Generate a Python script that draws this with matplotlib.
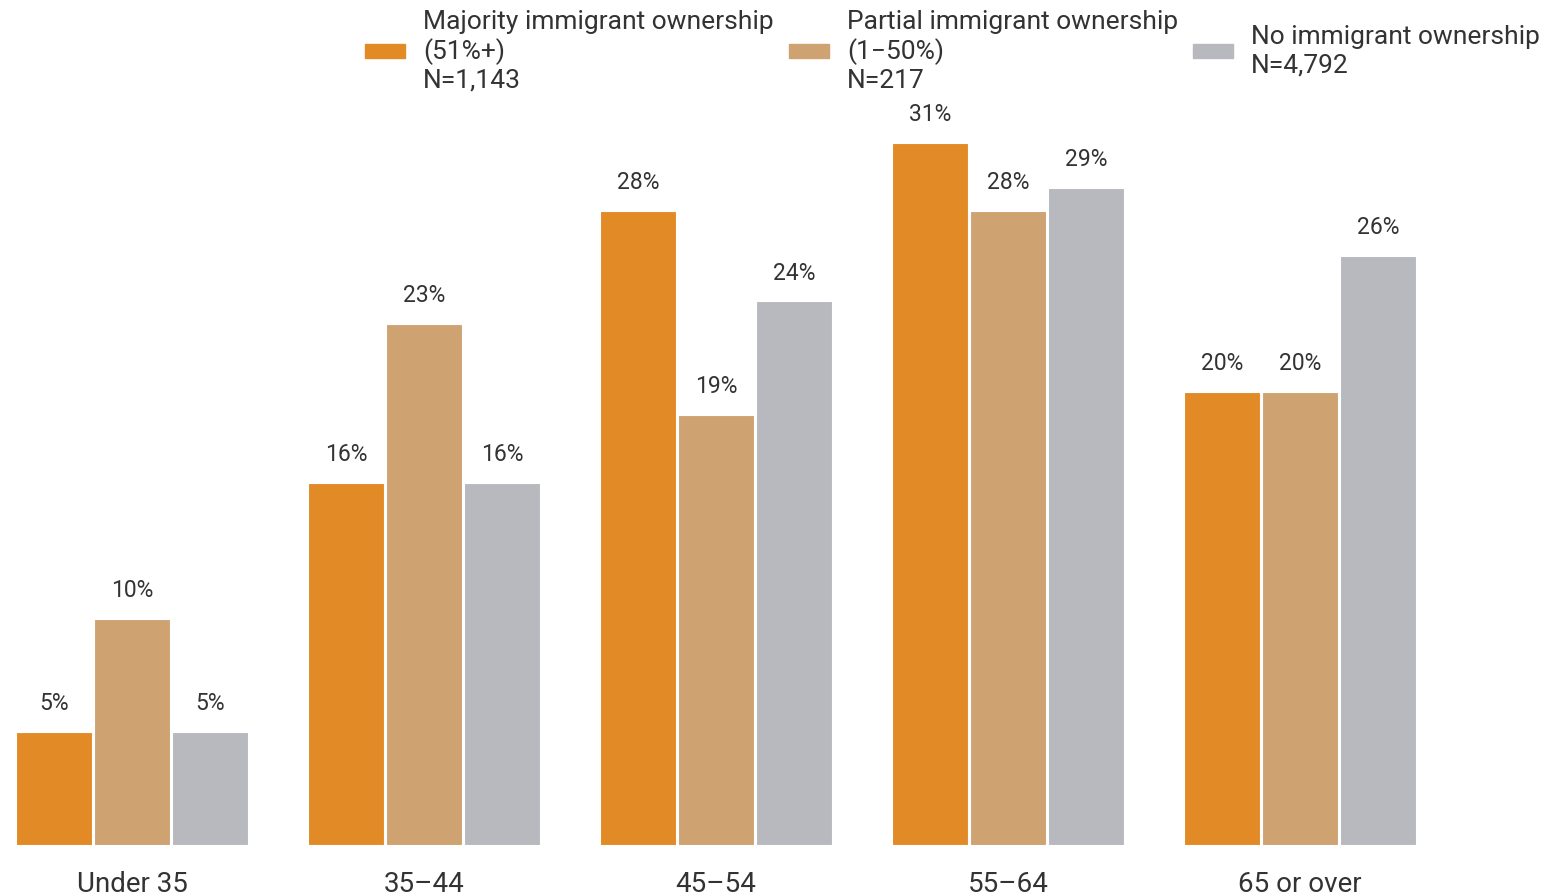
import numpy as np
import matplotlib.pyplot as plt
from matplotlib.patches import Patch

plt.rcParams['font.family'] = ['Roboto', 'DejaVu Sans']

groups = ['Under 35', '35\u201344', '45\u201354', '55\u201364', '65 or over']
majority = [5, 16, 28, 31, 20]
partial = [10, 23, 19, 28, 20]
none_ = [5, 16, 24, 29, 26]
series_names = ['Majority immigrant ownership\n(51%+)\nN=1,143',
                'Partial immigrant ownership\n(1\u221250%)\nN=217',
                'No immigrant ownership\nN=4,792']
colors = ['#E28A25', '#CFA272', '#B8B9BE']

fig = plt.figure(figsize=(15.5, 8.96), dpi=100)
ax = fig.add_axes([0, 51 / 896, 1, 845 / 896])

x = np.arange(len(groups))
step = 78 / 292
width = 76 / 292
for i, (vals, c) in enumerate(zip([majority, partial, none_], colors)):
    bars = ax.bar(x + (i - 1) * step, vals, width, color=c, edgecolor='white', linewidth=0.8)
    for b, v in zip(bars, vals):
        ax.annotate(f'{v}%', (b.get_x() + b.get_width() / 2, v), xytext=(0, 12),
                    textcoords='offset points', ha='center', va='bottom',
                    fontsize=16.5, color='#333333')

ax.set_xlim(-132 / 292, 4 + 250 / 292)
ax.set_ylim(0, 845 / 22.65)
ax.set_xticks(x)
ax.set_xticklabels(groups, fontsize=20, color='#333333')
ax.tick_params(axis='x', length=0, pad=19)
ax.set_yticks([])
for s in ax.spines.values():
    s.set_visible(False)

handles = [Patch(color=c) for c in colors]
fig.legend(handles, series_names, loc='upper right', bbox_to_anchor=(0.997, 0.995),
           ncol=3, frameon=False, fontsize=19, handlelength=1.52, handleheight=0.45,
           handletextpad=0.68, columnspacing=0.57, labelcolor='#333333',
           borderaxespad=0.1, borderpad=0.1)

fig.savefig('out.png', dpi=100)
